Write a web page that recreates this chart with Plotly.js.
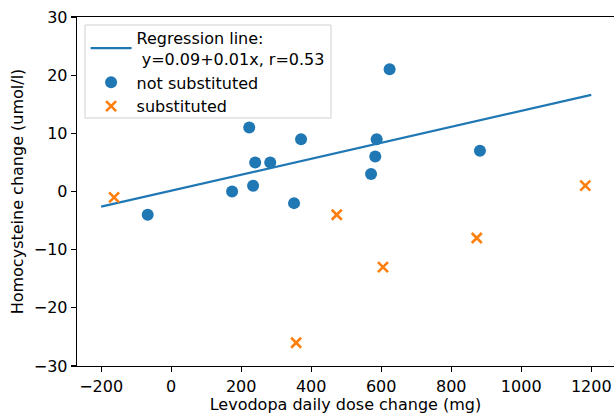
<!DOCTYPE html>
<html>
<head>
<meta charset="utf-8">
<script src="https://cdn.plot.ly/plotly-3.0.1.min.js"></script>
<style>html,body{margin:0;padding:0;background:#fff;}#chart{width:614px;height:414px;}</style>
</head>
<body>
<div id="chart"></div>
<script>
// Regression line endpoints
const lineX = [-200, 1200];
const lineY = [-2.6, 16.6];
const lineLabel = "Regression line:<br> y=0.09+0.01x, r=0.53";

// Not substituted
const notSubX = [-67, 174, 223, 234, 240, 283, 351, 371, 571, 583, 587, 624, 882];
const notSubY = [-4, 0, 11, 1, 5, 5, -2, 9, 3, 6, 9, 21, 7];

// Substituted
const subX = [-163, 357, 473, 605, 873, 1183];
const subY = [-1, -26, -4, -13, -8, 1];

const xTicks = [-200, 0, 200, 400, 600, 800, 1000, 1200];
const yTicks = [-30, -20, -10, 0, 10, 20, 30];

const font = {family: "DejaVu Sans, sans-serif", size: 16, color: "#000"};

const traces = [
  {x: lineX, y: lineY, mode: "lines", name: lineLabel,
   line: {color: "#1f77b4", width: 2.2}},
  {x: notSubX, y: notSubY, mode: "markers", name: "not substituted",
   marker: {color: "#1f77b4", size: 12, symbol: "circle"}},
  {x: subX, y: subY, mode: "markers", name: "substituted",
   marker: {color: "#ff7f0e", size: 10, symbol: "x-thin", line: {color: "#ff7f0e", width: 2.6}}}
];

const axisCommon = {
  showgrid: false, zeroline: false, showline: true, mirror: true,
  linecolor: "#000", linewidth: 1.3, ticks: "outside", ticklen: 5,
  tickcolor: "#000", tickwidth: 1.3, tickfont: font
};

const layout = {
  width: 614, height: 414,
  margin: {l: 77, r: 0, t: 17, b: 48},
  paper_bgcolor: "#fff", plot_bgcolor: "#fff",
  font: font,
  showlegend: true,
  legend: {
    x: 0.016, y: 0.989, xanchor: "left", yanchor: "top",
    borderwidth: 0, bgcolor: "rgba(0,0,0,0)",
    font: font, tracegroupgap: 0, itemwidth: 41
  },
  shapes: [{
    type: "rect", xref: "paper", yref: "paper",
    x0: 0.0149, x1: 0.473, y0: 0.7106, y1: 0.977,
    line: {color: "#d0d0d0", width: 1}, fillcolor: "rgba(255,255,255,0.8)",
    layer: "above"
  }],
  xaxis: Object.assign({}, axisCommon, {
    range: [-269, 1265], tickvals: xTicks,
    title: {text: "Levodopa daily dose change (mg)", font: font, standoff: 4}
  }),
  yaxis: Object.assign({}, axisCommon, {
    range: [-30, 30], tickvals: yTicks,
    title: {text: "Homocysteine change (umol/l)", font: font, standoff: 6}
  })
};

Plotly.newPlot("chart", traces, layout, {staticPlot: true, displayModeBar: false});
</script>
</body>
</html>
